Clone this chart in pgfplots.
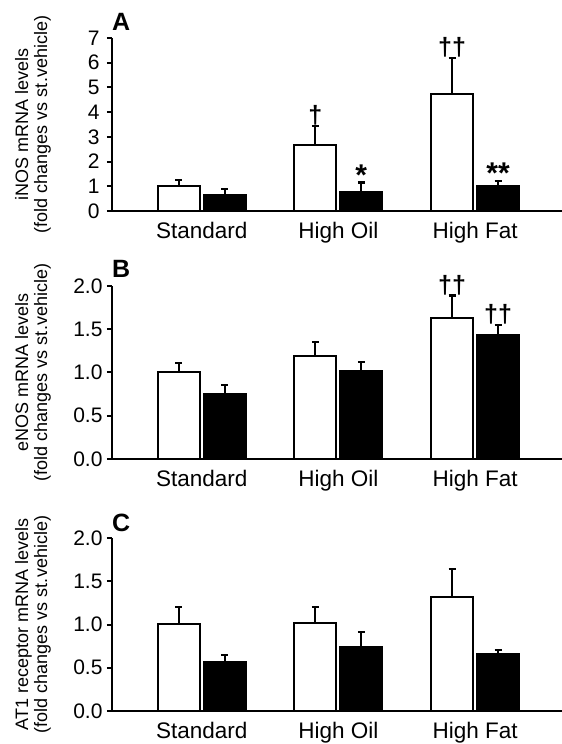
\documentclass[border=0pt]{standalone}
\usepackage{pgfplots}
\pgfplotsset{compat=1.18}
\usepackage{fontspec}
\setmainfont{Liberation Sans}

\pgfplotsset{
 panel/.style={
  scale only axis, width=450pt, height=173pt,
  anchor=south west,
  xmin=-0.656, xmax=2.636, ymin=0,
  axis x line*=bottom, axis y line*=left,
  axis line style={line width=2pt,-},
  xtick={0,1,2}, xticklabels={Standard,High Oil,High Fat},
  xtick style={draw=none},
  ytick style={line width=2pt, black},
  tick align=outside, major tick length=5pt,
  xticklabel style={font=\fontsize{22.5}{26}\selectfont, yshift=-3pt},
  yticklabel style={font=\fontsize{21}{25}\selectfont, xshift=-1pt},
  /pgf/number format/assume math mode=true,
  every axis y label/.style={at={(axis description cs:0,0.5)}, xshift=-79pt, rotate=90, anchor=center, font=\fontsize{18}{19}\selectfont, align=center},
  ybar=4pt, bar width=42pt,
  clip=false,
 },
 errs/.style={error bars/.cd, y dir=plus, y explicit,
   error bar style={line width=2.2pt, black},
   error mark options={rotate=90, mark size=3.5pt, line width=2.2pt, black}},
 wbar/.style={fill=white, draw=black, line width=2pt, errs},
 bbar/.style={fill=black, draw=black, line width=2pt, errs},
}
\tikzset{
 dgn/.style={anchor=south, inner sep=0.5pt, font=\bfseries\fontsize{25}{25}\selectfont},
 stn/.style={anchor=base, inner sep=0pt, yshift=-3pt, font=\bfseries\fontsize{30}{30}\selectfont},
 pln/.style={anchor=south west, inner sep=0pt, font=\bfseries\fontsize{25}{25}\selectfont},
}

\begin{document}
\begin{tikzpicture}
\useasboundingbox (0,0) rectangle (562pt,744pt);

% Panel A
\begin{axis}[panel, at={(112pt,533pt)}, ymax=7, ytick={0,1,...,7},
  yticklabel style={xshift=-3pt},
  ylabel={iNOS mRNA levels\\(fold changes vs st.vehicle)}]
\addplot[wbar] coordinates {(0,1.0) +- (0,0.27) (1,2.66) +- (0,0.79) (2,4.74) +- (0,1.44)};
\addplot[bbar] coordinates {(0,0.65) +- (0,0.23) (1,0.77) +- (0,0.38) (2,1.01) +- (0,0.21)};
\node[dgn] at (axis cs:0.832,3.45) {†};
\node[stn] at (axis cs:1.168,1.15) {*};
\node[dgn] at (axis cs:1.832,6.18) {††};
\node[stn] at (axis cs:2.168,1.22) {**};
\node[pln] at ([yshift=7pt]rel axis cs:0,1) {A};
\end{axis}

% Panel B
\begin{axis}[panel, at={(112pt,285pt)}, ymax=2, ytick={0,0.5,...,2},
  yticklabel={\pgfmathprintnumber[fixed,fixed zerofill,precision=1]{\tick}},
  ylabel={eNOS mRNA levels\\(fold changes vs st.vehicle)}]
\addplot[wbar] coordinates {(0,1.0) +- (0,0.11) (1,1.196) +- (0,0.158) (2,1.63) +- (0,0.26)};
\addplot[bbar] coordinates {(0,0.754) +- (0,0.106) (1,1.023) +- (0,0.10) (2,1.435) +- (0,0.115)};
\node[dgn] at (axis cs:1.832,1.89) {††};
\node[dgn] at (axis cs:2.168,1.55) {††};
\node[pln] at ([yshift=8pt]rel axis cs:0,1) {B};
\end{axis}

% Panel C
\begin{axis}[panel, at={(112pt,33pt)}, ymax=2, ytick={0,0.5,...,2},
  yticklabel={\pgfmathprintnumber[fixed,fixed zerofill,precision=1]{\tick}},
  ylabel={AT1 receptor mRNA levels\\(fold changes vs st.vehicle)}]
\addplot[wbar] coordinates {(0,1.006) +- (0,0.20) (1,1.021) +- (0,0.18) (2,1.315) +- (0,0.325)};
\addplot[bbar] coordinates {(0,0.561) +- (0,0.09) (1,0.743) +- (0,0.17) (2,0.654) +- (0,0.055)};
\node[pln] at ([yshift=6pt]rel axis cs:0,1) {C};
\end{axis}
\end{tikzpicture}
\end{document}
